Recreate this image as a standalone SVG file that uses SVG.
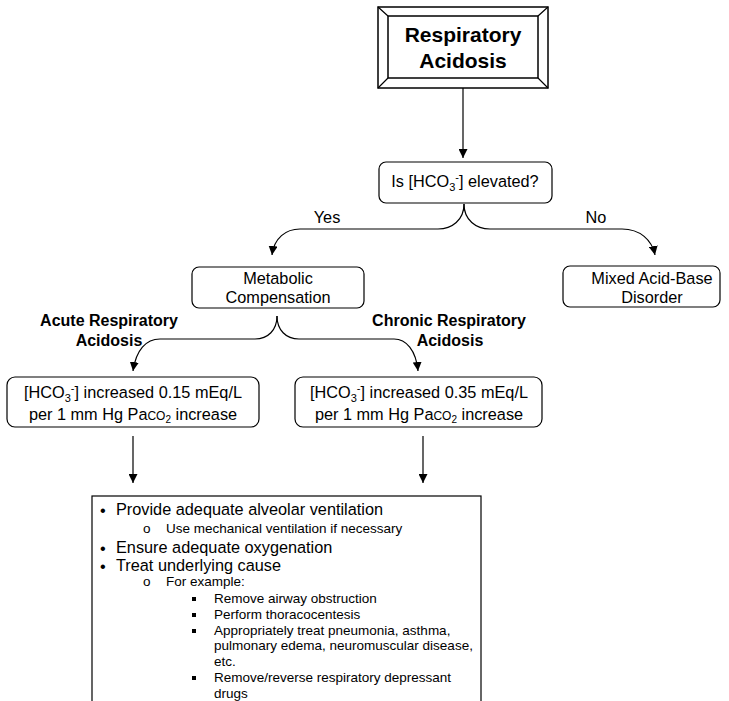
<svg xmlns="http://www.w3.org/2000/svg" width="729" height="701" viewBox="0 0 729 701">
<style>
text{font-family:"Liberation Sans",Arial,sans-serif;fill:#000}
.n{font-size:16.3px}
.b{font-size:16px;font-weight:bold}
.t{font-size:21px;font-weight:bold}
.s{font-size:13.5px}
.box{fill:#fff;stroke:#000;stroke-width:1.2}
.c{fill:none;stroke:#000;stroke-width:1.2}
</style>
<defs>
<marker id="ah" viewBox="0 0 10 10" refX="10" refY="5" markerWidth="9" markerHeight="9" markerUnits="userSpaceOnUse" orient="auto">
<path d="M0,0 L10,5 L0,10 z" fill="#000"/>
</marker>
</defs>
<rect width="729" height="701" fill="#fff"/>
<g id="connectors">
<path class="c" d="M463,88 V158" marker-end="url(#ah)"/>
<path class="c" d="M464,204 C464,220 452,229 438,229 H300 C286,229 274,238 272,255" marker-end="url(#ah)"/>
<path class="c" d="M464,204 C464,220 476,229 490,229 H622 C640,229 652,240 655,255" marker-end="url(#ah)"/>
<path class="c" d="M277,316 C277,330 268,339 255,339 H160 C146,339 136,350 133,371" marker-end="url(#ah)"/>
<path class="c" d="M277,316 C277,330 286,339 299,339 H394 C406,339 416,350 418,371" marker-end="url(#ah)"/>
<path class="c" d="M133,436 V483" marker-end="url(#ah)"/>
<path class="c" d="M423,436 V483" marker-end="url(#ah)"/>
<text class="n" x="327" y="223" text-anchor="middle">Yes</text>
<text class="n" x="596" y="223" text-anchor="middle">No</text>
<text class="b" x="109" y="326" text-anchor="middle">Acute Respiratory</text>
<text class="b" x="109" y="346" text-anchor="middle">Acidosis</text>
<text class="b" x="449" y="326" text-anchor="middle">Chronic Respiratory</text>
<text class="b" x="450" y="346" text-anchor="middle">Acidosis</text>
</g>
<g id="title">
<rect x="378" y="7" width="170" height="81" fill="#fff" stroke="#000" stroke-width="1.5"/>
<rect x="388" y="16" width="150" height="62" fill="none" stroke="#000" stroke-width="1.5"/>
<path d="M378,7 L388,16 M548,7 L538,16 M378,88 L388,78 M548,88 L538,78" stroke="#000" stroke-width="1.2"/>
<text class="t" x="463" y="42" text-anchor="middle">Respiratory</text>
<text class="t" x="463" y="68" text-anchor="middle">Acidosis</text>
</g>
<g id="hco3">
<rect class="box" x="379" y="162" width="173" height="41" rx="7"/>
<text class="n" x="465" y="187" text-anchor="middle">Is [HCO<tspan dy="4" font-size="11">3</tspan><tspan dy="-10" font-size="11">-</tspan><tspan dy="6">] elevated?</tspan></text>
</g>
<g id="metabolic">
<rect class="box" x="192" y="267" width="172" height="41" rx="7"/>
<text class="n" x="278" y="284" text-anchor="middle">Metabolic</text>
<text class="n" x="278" y="303" text-anchor="middle">Compensation</text>
</g>
<g id="mixed">
<rect class="box" x="563" y="266" width="157" height="41" rx="7"/>
<text class="n" x="652" y="284" text-anchor="middle">Mixed Acid-Base</text>
<text class="n" x="652" y="303" text-anchor="middle">Disorder</text>
</g>
<g id="acute">
<rect class="box" x="7" y="377" width="252" height="50" rx="8"/>
<text class="n" x="133" y="398" text-anchor="middle">[HCO<tspan dy="4" font-size="11">3</tspan><tspan dy="-10" font-size="11">-</tspan><tspan dy="6">] increased 0.15 mEq/L</tspan></text>
<text class="n" x="133" y="420" text-anchor="middle">per 1 mm Hg Pa<tspan font-size="12">CO</tspan><tspan dy="3" font-size="10">2</tspan><tspan dy="-3"> increase</tspan></text>
</g>
<g id="chronic">
<rect class="box" x="295" y="377" width="247" height="50" rx="8"/>
<text class="n" x="419" y="398" text-anchor="middle">[HCO<tspan dy="4" font-size="11">3</tspan><tspan dy="-10" font-size="11">-</tspan><tspan dy="6">] increased 0.35 mEq/L</tspan></text>
<text class="n" x="419" y="420" text-anchor="middle">per 1 mm Hg Pa<tspan font-size="12">CO</tspan><tspan dy="3" font-size="10">2</tspan><tspan dy="-3"> increase</tspan></text>
</g>
<g id="treatment">
<rect x="92" y="496" width="389" height="215" fill="#fff" stroke="#000" stroke-width="1.2"/>
<text class="n" x="100" y="516">•</text>
<text class="n" x="116" y="515">Provide adequate alveolar ventilation</text>
<text class="s" x="143" y="533">o</text>
<text class="s" x="166" y="533">Use mechanical ventilation if necessary</text>
<text class="n" x="100" y="554">•</text>
<text class="n" x="116" y="553">Ensure adequate oxygenation</text>
<text class="n" x="100" y="572">•</text>
<text class="n" x="116" y="571">Treat underlying cause</text>
<text class="s" x="143" y="586">o</text>
<text class="s" x="166" y="586">For example:</text>
<rect x="192" y="597" width="4" height="4"/>
<text class="s" x="214" y="603">Remove airway obstruction</text>
<rect x="192" y="613" width="4" height="4"/>
<text class="s" x="214" y="619">Perform thoracocentesis</text>
<rect x="192" y="629" width="4" height="4"/>
<text class="s" x="214" y="635">Appropriately treat pneumonia, asthma,</text>
<text class="s" x="214" y="650">pulmonary edema, neuromuscular disease,</text>
<text class="s" x="214" y="666">etc.</text>
<rect x="192" y="676" width="4" height="4"/>
<text class="s" x="214" y="682">Remove/reverse respiratory depressant</text>
<text class="s" x="214" y="698">drugs</text>
</g>
</svg>
